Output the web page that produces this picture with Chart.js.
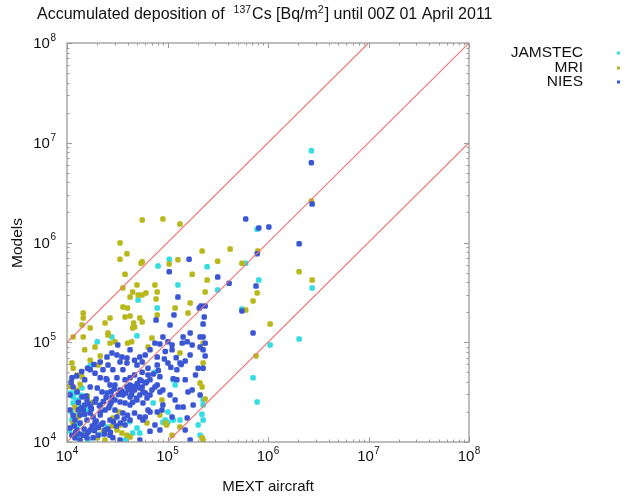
<!DOCTYPE html>
<html><head><meta charset="utf-8">
<script src="https://cdn.jsdelivr.net/npm/chart.js@4/dist/chart.umd.min.js"></script>
<style>html,body{margin:0;padding:0;background:#fff}canvas{display:block}</style>
</head><body>
<canvas id="c" width="631" height="498"></canvas>
<script>
// ---- data (MEXT aircraft value, model value) in Bq/m2 ----
const seriesNames = ["JAMSTEC", "MRI", "NIES"];
const tickExponents = [4, 5, 6, 7, 8];

const jamstecX = [2.7e6,7.8e5,2.48e5,6.0e5,3.16e5,8.1e5,2.75e6,5.5e5,1.05e6,2.04e6,7.1e5,7.8e5,1.04e5,8.05e4,1.27e5,5.1e4,7.9e4,4.97e4,2.8e4,2.0e4,2.26e5,2.26e5,2.11e5,1.33e5,9.5e4,1.14e5,1.19e5,7.2e4,1.15e4,1.26e4,1.15e4,1.35e4,1.41e4,1.12e4,2.5e4,4.97e4,5.3e4,4.5e4,7.5e4,1.01e5,9.0e4,1.01e5,1.14e5,2.02e5,2.26e5,1.62e4,1.29e4,1.08e4,1.2e4,1.1e4,1.38e4,1.3e4,1.5e4,1.6e4,2.2e4,3.8e4,1.7e4,1.25e4,1.05e4,2.2e5,4.2e4];
const jamstecY = [8.3e6,1.36e6,5.7e5,6.2e5,3.34e5,4.2e5,3.5e5,2.15e5,9.4e4,1.08e5,4.4e4,2.52e4,6.8e5,5.8e5,3.75e5,2.65e5,2.2e5,1.16e5,1.13e5,1.01e5,2.64e4,2.35e4,1.17e4,1.66e4,1.66e4,4.2e4,3.73e4,2.46e4,2.83e4,2.64e4,2.46e4,2.24e4,3.48e4,1.66e4,1.41e4,1.38e4,1.23e4,1.23e4,5.0e4,2.0e4,1.58e4,1.58e4,1.66e4,1.48e4,1.66e4,1.05e4,1.48e4,3.1e4,3.1e4,2.0e4,2.95e4,1.9e4,1.25e4,2.1e4,1.2e4,1.05e4,5.8e4,1.1e4,1.3e4,1.9e4,1.6e4];

const mriX = [2.7e6,4.2e5,3.16e5,7.9e5,5.5e5,2.04e6,2.75e6,7.8e5,7.1e5,6.0e5,1.05e6,7.6e5,2.21e5,5.6e4,9.0e4,1.33e5,5.6e4,1.04e5,1.27e5,1.76e5,2.48e5,7.5e4,7.9e4,2.37e5,4.5e4,5.1e4,5.6e4,6.1e4,4.24e4,7.7e4,1.19e5,1.68e5,7.9e4,1.6e5,5.3e4,5.6e4,4.6e4,4.5e4,3.37e4,3.95e4,3.37e4,5.45e4,3.78e4,4.97e4,3.6e4,3.6e4,4.0e4,3.78e4,4.24e4,1.45e4,1.45e4,2.68e4,2.39e4,1.41e4,1.7e4,1.15e4,1.45e4,4.7e4,2.56e4,2.56e4,2.68e4,3.0e4,4.0e4,4.4e4,7.0e4,6.4e4,2.26e5,2.26e5,2.11e5,2.21e5,2.37e5,2.26e5,1.33e5,9.5e4,1.33e5,8.4e4,8.8e4,6.25e4,9.8e4,1.11e5,2.21e5,1.12e4,1.15e4,1.26e4,1.41e4,1.7e4,2.04e4,3.14e4,3.52e4,3.95e4,4.24e4,2.86e4,3.37e4,1.26e4,1.29e4,2.0e4,1.5e4,2.14e4,1.9e4,1.26e4,1.2e4,2.39e4,1.1e4,1.35e4,1.6e4,1.8e4,2.3e4,1.15e4,3.3e4,2.8e4,1.05e4,1.55e4];
const mriY = [2.6e6,8.6e5,6.5e5,8.2e5,6.2e5,5.1e5,4.2e5,3.12e5,2.59e5,2.1e5,1.52e5,7.3e4,8.2e5,1.68e6,1.72e6,1.53e6,6.4e5,6.1e5,6.7e5,4.8e5,4.2e5,3.75e5,3.19e5,3.19e5,3.19e5,2.98e5,2.98e5,3.12e5,2.84e5,2.72e5,2.2e5,2.48e5,1.88e5,1.96e5,1.75e5,1.6e5,1.56e5,1.39e5,9.9e5,7.7e5,6.8e5,6.2e5,4.8e5,3.75e5,3.5e5,2.26e5,2.2e5,1.79e5,1.83e5,1.96e5,1.75e5,1.75e5,1.56e5,1.49e5,1.39e5,1.13e5,1.13e5,1.42e5,1.24e5,1.18e5,9.8e4,1.01e5,9.8e4,1.01e5,1.1e5,8.95e4,9.8e4,6.2e4,3.9e4,3.56e4,2.7e4,1.05e4,1.41e4,1.55e4,7.8e4,1.87e4,2.64e4,1.55e4,1.48e4,1.17e4,1.1e4,6.2e4,5.5e4,4.7e4,4.5e4,6.6e4,5.9e4,1.32e4,1.23e4,1.17e4,1.12e4,1.74e4,1.48e4,2.09e4,1.78e4,1.1e4,8.4e4,7.3e4,8.95e4,3.32e4,2.24e4,1.05e4,4.0e4,3.8e4,2.9e4,2.5e4,1.3e4,1.55e4,2.0e4,1.45e4,3.6e4,1.25e4];

const niesX = [2.7e6,2.75e6,6.0e5,8.1e5,1.02e6,2.04e6,7.8e5,3.16e5,4.1e5,7.6e5,5.5e5,7.1e5,1.64e5,1.04e5,1.27e5,2.16e5,2.37e5,2.07e5,7.7e4,1.16e5,2.32e5,1.06e5,2.26e5,1.68e5,2.11e5,8.4e4,1.01e5,1.4e5,9.0e4,1.43e5,1.57e5,1.76e5,2.26e5,2.37e5,7.5e4,1.11e5,2.11e5,5.3e4,5.6e4,4.97e4,7.9e4,1.01e5,1.33e5,1.5e5,1.24e5,2.02e5,2.26e5,6.4e4,5.6e4,1.14e5,1.6e5,8.8e4,7.9e4,6.4e4,4.7e4,5.3e4,6.0e4,6.7e4,1.27e5,1.43e5,1.57e5,1.11e5,1.24e5,1.76e5,7.9e4,1.11e5,6.4e4,8.4e4,7.5e4,8.4e4,9.0e4,5.6e4,5.7e4,6.25e4,4.97e4,4.7e4,5.3e4,6.0e4,6.7e4,7.0e4,7.9e4,9.0e4,2.5e4,2.8e4,3.14e4,3.52e4,3.95e4,3.37e4,2.56e4,2.28e4,2.86e4,3.6e4,3.95e4,1.9e4,2.14e4,2.5e4,3.14e4,4.24e4,4.7e4,1.12e4,1.15e4,1.26e4,1.41e4,1.58e4,1.7e4,2.0e4,2.23e4,2.5e4,2.8e4,3.0e4,3.37e4,3.78e4,4.24e4,1.45e4,1.7e4,1.82e4,1.58e4,1.35e4,1.26e4,1.45e4,1.7e4,2.0e4,2.28e4,2.68e4,3.14e4,3.6e4,1.12e4,1.2e4,1.58e4,1.82e4,3.95e4,4.5e4,5.3e4,4.97e4,5.7e4,3.6e4,4.24e4,5.7e4,2.86e4,3.37e4,2.26e5,2.37e5,2.14e4,2.39e4,1.9e4,2.68e4,3.0e4,1.5e4,1.35e4,1.2e4,2.14e4,1.9e4,2.39e4,2.04e4,1.35e4,1.07e4,1.07e4,1.07e4,1.5e4,1.7e4,2.14e4,3.0e4,3.37e4,2.68e4,4.24e4,3.78e4,5.3e4,6.0e4,6.7e4,4.7e4,6.0e4,4.24e4,3.2e4,6.7e4,9.5e4,1.68e5,1.9e5,1.5e5,2.11e5,1.8e5,1.06e5,1.19e5,7.5e4,4.24e4,3.78e4,2.68e4,5.3e4,6.7e4,8.4e4,1.5e5,1.68e5,
  1.3e4,1.4e4,1.55e4,1.65e4,1.75e4,1.95e4,2.1e4,2.3e4,2.45e4,2.6e4,2.75e4,2.95e4,3.25e4,3.5e4,3.85e4,4.1e4,4.4e4,4.6e4,5.0e4,5.5e4,1.18e4,1.22e4,1.33e4,1.48e4,1.62e4,1.78e4,1.88e4,2.05e4,2.2e4,2.35e4,2.55e4,2.7e4,2.9e4,3.1e4,3.4e4,3.7e4,4.0e4,4.5e4,4.9e4,6.2e4,7.2e4,8.1e4,9.3e4,1.08e5,1.22e5,1.37e5,1.1e4,1.25e4,1.4e4,1.6e4,1.85e4,2.15e4,2.45e4,2.75e4,1.15e4,1.3e4,1.5e4,1.72e4,1.95e4];
const niesY = [6.3e6,2.43e6,1.72e6,1.4e6,1.43e6,9.7e5,7.7e5,4.5e5,3.9e5,3.66e5,2.06e5,1.24e5,6.8e5,5.1e5,2.84e5,2.31e5,2.31e5,2.2e5,1.67e5,1.88e5,1.79e5,1.49e5,1.52e5,1.24e5,1.13e5,9.6e4,1.01e5,9.8e4,1.13e5,1.13e5,1.01e5,9.4e4,8.4e4,7.3e4,9.8e4,9.4e4,8.95e4,7.1e4,6.35e4,5.9e4,5.9e4,6.2e4,6.2e4,6.5e4,5.3e4,5.5e4,5.5e4,5.5e4,5.0e4,4.3e4,3.17e4,2.09e4,2.0e4,2.09e4,1.95e4,1.78e4,1.78e4,2.0e4,2.24e4,2.24e4,1.74e4,1.78e4,4.2e4,3.32e4,7.1e4,8.4e4,4.7e4,4.5e4,3.56e4,3.17e4,2.35e4,3.56e4,3.17e4,2.76e4,3.73e4,3.32e4,3.48e4,3.1e4,2.96e4,3.32e4,3.73e4,3.32e4,7.1e4,7.8e4,7.45e4,7.1e4,6.95e4,6.35e4,5.9e4,5.3e4,5.3e4,5.3e4,6.2e4,4.9e4,4.4e4,4.2e4,4.4e4,4.4e4,4.7e4,4.4e4,3.56e4,3.17e4,2.83e4,2.64e4,3.56e4,3.48e4,3.17e4,3.1e4,2.83e4,2.64e4,2.52e4,2.46e4,2.35e4,2.09e4,1.95e4,1.78e4,1.66e4,1.55e4,1.32e4,1.17e4,1.32e4,1.41e4,1.55e4,1.66e4,1.78e4,1.95e4,1.17e4,1.1e4,1.1e4,1.1e4,3.56e4,3.32e4,2.96e4,2.64e4,2.46e4,2.96e4,2.83e4,1.66e4,1.1e4,1.05e4,1.13e5,9.8e4,2.35e4,2.09e4,2.52e4,2.35e4,2.09e4,2.35e4,1.87e4,1.66e4,1.87e4,1.58e4,1.32e4,1.17e4,1.05e4,1.38e4,2.09e4,2.96e4,4.2e4,5.3e4,6.35e4,3.73e4,3.32e4,3.73e4,3.73e4,4.2e4,4.2e4,3.9e4,4.2e4,6.6e4,7.45e4,8.4e4,9.4e4,8.4e4,8.1e4,7.45e4,4.7e4,4.2e4,2.96e4,2.35e4,2.96e4,2.64e4,1.48e4,1.66e4,1.48e4,1.17e4,1.05e4,1.28e4,1.32e4,1.32e4,1.05e4,
  2.5e4,2.2e4,2.9e4,2.4e4,2.15e4,2.7e4,2.3e4,2.55e4,2.8e4,2.2e4,3.2e4,3.4e4,3.0e4,3.25e4,3.1e4,3.35e4,3.0e4,3.6e4,3.85e4,4.1e4,1.45e4,1.25e4,1.2e4,1.35e4,1.25e4,1.45e4,1.3e4,1.4e4,1.5e4,1.2e4,1.35e4,1.25e4,1.6e4,1.45e4,1.55e4,1.7e4,1.85e4,2.5e4,2.75e4,4.0e4,4.8e4,5.2e4,6.8e4,5.6e4,7.0e4,6.0e4,3.95e4,4.6e4,5.1e4,5.5e4,6.0e4,2.0e4,4.3e4,2.5e4,1.85e4,2.1e4,1.9e4,2.25e4,1.62e4];

// reference lines: model = 10 x, 1 x, 0.1 x aircraft
const lineUpperX = [1e4, 1e7], lineUpperY = [1e5, 1e8];
const lineMidX = [1e4, 1e8], lineMidY = [1e4, 1e8];
const lineLowX = [1e5, 1e8], lineLowY = [1e4, 1e7];

const colors = ["#33dde2", "#b8b81c", "#3a56d4"];
const lineColor = "#ef7474";

const pts = (xs, ys) => xs.map((x, i) => ({x: x, y: ys[i]}));
const lineDs = (xs, ys) => ({data: pts(xs, ys), showLine: true, borderColor: lineColor, backgroundColor: lineColor, borderWidth: 1.1, pointRadius: 0, fill: false});
const dotDs = (name, xs, ys, c) => ({label: name, data: pts(xs, ys), backgroundColor: c, borderColor: c, borderWidth: 0, pointStyle: 'rectRounded', pointRadius: 3.2});

const FONT = '"Liberation Sans", Arial, sans-serif';

function drawPow(ctx, exp, x, y, align) {
  ctx.save();
  ctx.fillStyle = '#111';
  ctx.textBaseline = 'middle';
  const bf = '15px ' + FONT, ef = '10px ' + FONT;
  ctx.font = bf; const wb = ctx.measureText('10').width;
  ctx.font = ef; const we = ctx.measureText(String(exp)).width;
  const total = wb + we + 0.5;
  let x0 = align === 'right' ? x - total : x - total / 2;
  ctx.font = bf; ctx.textAlign = 'left'; ctx.fillText('10', x0, y);
  ctx.font = ef; ctx.fillText(String(exp), x0 + wb + 0.5, y - 6);
  ctx.restore();
}

const decor = {
  id: 'decor',
  afterDraw(chart) {
    const ctx = chart.ctx, a = chart.chartArea, sx = chart.scales.x, sy = chart.scales.y;
    ctx.save();
    ctx.strokeStyle = '#9b9b9b'; ctx.lineWidth = 1.3;
    ctx.strokeRect(a.left, a.top, a.right - a.left, a.bottom - a.top);
    ctx.lineWidth = 1;
    for (let e = tickExponents[0]; e < tickExponents[tickExponents.length - 1]; e++) {
      for (let m = 1; m <= 10; m++) {
        const v = m * Math.pow(10, e);
        const len = (m === 1 || m === 10) ? 5 : 2.5;
        const px = Math.round(sx.getPixelForValue(v)) + 0.5;
        const py = Math.round(sy.getPixelForValue(v)) + 0.5;
        ctx.beginPath();
        ctx.moveTo(px, a.bottom); ctx.lineTo(px, a.bottom - len);
        ctx.moveTo(px, a.top); ctx.lineTo(px, a.top + len);
        ctx.moveTo(a.left, py); ctx.lineTo(a.left + len, py);
        ctx.moveTo(a.right, py); ctx.lineTo(a.right - len, py);
        ctx.stroke();
      }
    }
    tickExponents.forEach(e => {
      const v = Math.pow(10, e);
      drawPow(ctx, e, sx.getPixelForValue(v), a.bottom + 15, 'center');
      drawPow(ctx, e, a.left - 11, sy.getPixelForValue(v) + 1, 'right');
    });
    ctx.fillStyle = '#111'; ctx.textBaseline = 'middle';
    ctx.font = '15px ' + FONT; ctx.textAlign = 'center';
    ctx.fillText('MEXT aircraft', (a.left + a.right) / 2, 487);
    ctx.save(); ctx.translate(18, 243); ctx.rotate(-Math.PI / 2);
    ctx.font = '15.5px ' + FONT;
    ctx.fillText('Models', 0, 0); ctx.restore();
    const parts = [['Accumulated deposition of  ', false], ['137', true], ['Cs [Bq/m', false], ['2', true], ['] until 00Z 01 April 2011', false]];
    let tx = 37; ctx.textAlign = 'left';
    parts.forEach(([t, sup]) => {
      ctx.font = (sup ? '10.5px ' : '16px ') + FONT;
      ctx.fillText(t, tx, sup ? 10 : 15);
      tx += ctx.measureText(t).width + (sup ? 1 : 0);
    });
    ctx.font = '15.5px ' + FONT; ctx.textAlign = 'right';
    const ly = [53, 68, 82];
    seriesNames.forEach((n, i) => {
      ctx.fillStyle = '#111';
      ctx.fillText(n, 583, ly[i]);
      ctx.fillStyle = colors[i];
      ctx.fillRect(617, ly[i] - 1.5, 3, 3);
    });
    ctx.restore();
  }
};

new Chart(document.getElementById('c'), {
  type: 'scatter',
  data: {
    datasets: [
      lineDs(lineUpperX, lineUpperY),
      lineDs(lineMidX, lineMidY),
      lineDs(lineLowX, lineLowY),
      dotDs(seriesNames[2], niesX, niesY, colors[2]),
      dotDs(seriesNames[1], mriX, mriY, colors[1]),
      dotDs(seriesNames[0], jamstecX, jamstecY, colors[0])
    ]
  },
  options: {
    responsive: false,
    animation: false,
    layout: {padding: {left: 67, right: 162, top: 43, bottom: 56}},
    scales: {
      x: {type: 'logarithmic', min: 1e4, max: 1e8, display: false},
      y: {type: 'logarithmic', min: 1e4, max: 1e8, display: false}
    },
    plugins: {legend: {display: false}, title: {display: false}, tooltip: {enabled: false}}
  },
  plugins: [decor]
});
</script>
</body></html>
